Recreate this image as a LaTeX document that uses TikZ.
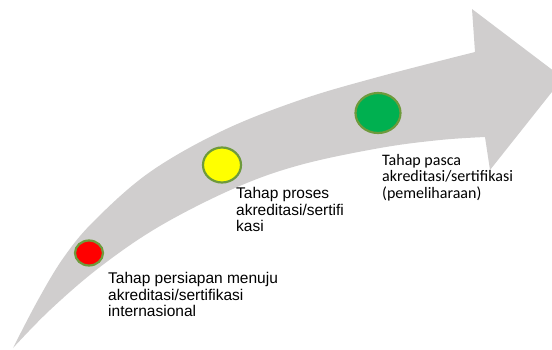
\documentclass[tikz,border=0pt]{standalone}
\usepackage{fontspec}
\setmainfont{Liberation Sans}
\newfontfamily\calibrifont{Carlito}
\usetikzlibrary{shapes.geometric}
\definecolor{bandgray}{HTML}{D0CECE}
\definecolor{ringgreen}{HTML}{6E9A3C}
\definecolor{dotred}{HTML}{FF0000}
\definecolor{dotyellow}{HTML}{FFFF00}
\definecolor{dotgreen}{HTML}{00B050}
\tikzset{
  dot/.style={ellipse, draw=ringgreen, line width=2.2pt, inner sep=0pt},
  lbl/.style={anchor=north west, inner sep=0pt, align=left, text=black,
    font=\fontsize{15.5}{16.6}\selectfont},
  lblc/.style={anchor=north west, inner sep=0pt, align=left, text=black,
    font=\calibrifont\fontsize{16}{16.6}\selectfont}
}
\begin{document}
\begin{tikzpicture}[x=1pt,y=-1pt]
\useasboundingbox (0,0) rectangle (552,349);
\clip (0,0) rectangle (552,349);
% curved block arrow
\fill[bandgray] plot[smooth, tension=0.6] coordinates {(13,348) (38,300) (64,257) (95,220) (150,172) (222,131) (300,100) (378,77) (475,52)}
  -- (472,9) -- (563,78) -- (490,170) -- (485,137)
  -- plot[smooth, tension=0.6] coordinates {(485,137) (440,140) (380,148) (300,165) (235,188) (160,226) (100,267) (50,310) (13,348)} -- cycle;
% stage dots
\node[dot, fill=dotred, minimum width=28pt, minimum height=25pt] (d1) at (89,253) {};
\node[dot, fill=dotyellow, minimum width=38pt, minimum height=35pt] (d2) at (222,165) {};
\node[dot, fill=dotgreen, minimum width=45pt, minimum height=40pt] (d3) at (378,113) {};
% labels
\node[lbl] (t1) at (108,272) {Tahap persiapan menuju\\akreditasi/sertifikasi\\internasional};
\node[lbl] (t2) at (236,187) {Tahap proses\\akreditasi/sertifi\\kasi};
\node[lblc] (t3) at (382,154) {Tahap pasca\\akreditasi/sertifikasi\\(pemeliharaan)};
\end{tikzpicture}
\end{document}
